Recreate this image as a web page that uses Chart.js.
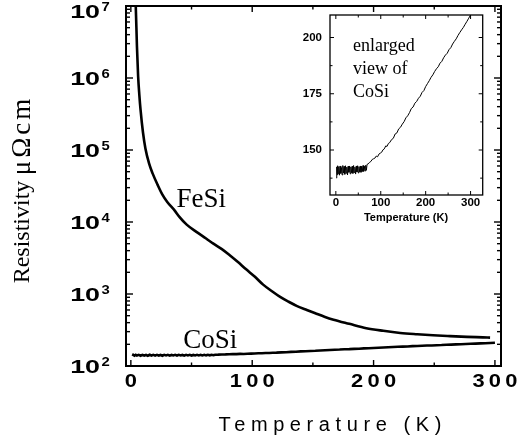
<!DOCTYPE html>
<html>
<head>
<meta charset="utf-8">
<script src="https://cdn.jsdelivr.net/npm/chart.js@4.4.1/dist/chart.umd.min.js"></script>
<style>
    body { margin: 0; background: #fff; }
    #wrap { position: relative; width: 517px; height: 444px; }
    #mainChart { position: absolute; left: 0; top: 0; }
    #insetChart { position: absolute; left: 290px; top: 0; }
</style>
</head>
<body>
<div id="wrap">
    <canvas id="mainChart" width="517" height="444"></canvas>
    <canvas id="insetChart" width="200" height="235"></canvas>
</div>
<script>
const fesiTemp = [3.5, 4, 5, 6, 7, 8, 10, 12, 15, 18, 22, 26, 30, 36, 40, 46, 54, 62, 68, 75,
    82, 88, 95, 102, 109, 116, 123, 130, 137, 145, 152, 160, 167, 180, 194, 208, 222, 236,
    249, 263, 277, 290, 296];
const fesiRho = [1.4e7, 1.05e7, 2.8e6, 1.05e6, 5.8e5, 3.6e5, 1.75e5, 1.05e5, 6.5e4, 4.7e4,
    3.3e4, 2.4e4, 1.9e4, 1.45e4, 1.18e4, 9.2e3, 7.3e3, 5.9e3, 5.0e3, 4.2e3, 3.4e3, 2.8e3,
    2.2e3, 1.75e3, 1.35e3, 1.1e3, 910, 780, 680, 600, 540, 480, 440, 385, 335, 308, 288,
    276, 267, 260, 254, 250, 248];

const cosiTemp = [1.5, 2, 3, 4, 5, 6.5, 8, 9.5, 11, 12.5, 14, 15.5, 17, 18.5, 20, 21.5, 23,
    24.5, 26, 27.5, 29, 30.5, 32, 33.5, 35, 36.5, 38, 39.5, 41, 42.5, 44, 45.5, 47, 48.5,
    50, 51.5, 53, 54.5, 56, 57.5, 59, 60.5, 62, 63.5, 65, 66.5, 68, 69.5, 72, 75, 78, 81,
    84, 87, 90, 93, 96, 99, 102, 105, 108, 111, 114, 117, 120, 124, 128, 132, 136, 140,
    144, 148, 152, 156, 160, 164, 168, 172, 176, 180, 184, 188, 192, 196, 200, 204, 208,
    212, 216, 220, 224, 228, 232, 236, 240, 244, 248, 252, 256, 260, 264, 268, 272, 276,
    280, 284, 288, 292, 296, 300];
const cosiRho = [137.5, 142.5, 139, 143, 139.5, 142.6, 138.8, 142.9, 139.6, 142.2, 138.9,
    143.1, 139.8, 142.7, 139.2, 143.0, 139.7, 142.4, 138.9, 142.8, 140.1, 142.9, 139.4,
    142.5, 139.9, 142.8, 139.6, 143.1, 140.0, 142.4, 139.3, 142.9, 140.2, 143.0, 139.8,
    142.6, 140.3, 142.9, 140.1, 142.7, 140.4, 143.1, 140.5, 142.8, 140.7, 143.2, 141.0,
    143.6, 143.8, 144.5, 144.9, 145.8, 146.1, 146.4, 147.3, 147.0, 148.2, 148.6, 149.0,
    150.1, 150.5, 151.8, 151.6, 152.9, 153.3, 154.6, 155.2, 157.1, 157.6, 159.4, 160.1,
    161.5, 162.6, 164.3, 165.2, 166.6, 168.4, 169.1, 170.8, 171.6, 173.0, 173.9, 175.6,
    176.4, 178.2, 179.5, 180.8, 182.3, 183.4, 184.9, 186.1, 187.0, 188.6, 189.4, 191.0,
    192.2, 193.0, 194.6, 195.5, 197.1, 198.3, 199.4, 200.9, 202.2, 203.4, 204.5, 205.9,
    207.2, 208.6, 210.0];

const xTickLabels = [0, 100, 200, 300];
const yDecades = [2, 3, 4, 5, 6, 7];
const insetXTickLabels = [0, 100, 200, 300];
const insetYTickLabels = [150, 175, 200];

function toPoints(xs, ys) {
    return xs.map((x, i) => ({ x: x, y: ys[i] }));
}

function drawLabel(ctx, text, x, y, font, opt = {}) {
    const ls = opt.ls || 0;
    const sx = opt.sx || 1;
    const align = opt.align || "left";
    ctx.save();
    ctx.font = font;
    ctx.letterSpacing = "0px";
    const w = ctx.measureText(text).width + ls * ([...text].length - 1);
    let dx = 0;
    if (align === "center") dx = -w / 2;
    if (align === "right") dx = -w;
    ctx.translate(x, y);
    if (opt.rotate) ctx.rotate(opt.rotate);
    ctx.scale(sx, 1);
    ctx.letterSpacing = ls + "px";
    ctx.textAlign = "left";
    ctx.textBaseline = opt.baseline || "alphabetic";
    ctx.fillStyle = "#000";
    ctx.fillText(text, dx, 0);
    ctx.restore();
}

function tick(ctx, x1, y1, x2, y2) {
    ctx.beginPath();
    ctx.moveTo(x1, y1);
    ctx.lineTo(x2, y2);
    ctx.stroke();
}

const mainFrame = {
    id: "mainFrame",
    afterDraw(chart) {
        const { ctx, chartArea: a, scales: { x, y } } = chart;
        ctx.save();
        ctx.strokeStyle = "#000";
        ctx.lineWidth = 2;
        ctx.strokeRect(a.left, a.top, a.right - a.left, a.bottom - a.top);

        ctx.lineWidth = 1.4;
        for (let k = 2; k <= 7; k++) {
            for (let m = 1; m <= 9; m++) {
                const v = m * Math.pow(10, k);
                if (v > 1e7) break;
                const py = y.getPixelForValue(v);
                const len = m === 1 ? 7 : 4;
                tick(ctx, a.left, py, a.left + len, py);
                tick(ctx, a.right, py, a.right - len, py);
            }
        }
        for (let t = 0; t <= 300; t += 50) {
            const px = x.getPixelForValue(t);
            const len = t % 100 === 0 ? 6 : 3.5;
            tick(ctx, px, a.bottom, px, a.bottom - len);
            tick(ctx, px, a.top, px, a.top + len);
        }
        ctx.restore();

        yDecades.forEach(k => {
            const py = y.getPixelForValue(Math.pow(10, k));
            const base = Math.max(py + 6.7, 17.5);
            drawLabel(ctx, "10", 100, base, "bold 18.5px 'Liberation Sans'", { align: "right", sx: 1.45 });
            drawLabel(ctx, String(k), 101.5, base - 6.5, "bold 13.5px 'Liberation Sans'", { sx: 1.1 });
        });
        xTickLabels.forEach(t => {
            const px = x.getPixelForValue(t);
            drawLabel(ctx, String(t), px, 387, "bold 17.5px 'Liberation Sans'", { align: "center", sx: 1.25, ls: 3.4 });
        });

        drawLabel(ctx, "Temperature (K)", 330, 431, "20px 'Liberation Sans'", { align: "center", ls: 5.6 });
        drawLabel(ctx, "Resistivity", 28.5, 232, "24px 'Liberation Serif'", { align: "center", rotate: -Math.PI / 2 });
        drawLabel(ctx, "\u03bc\u03a9cm", 29.5, 137, "27px 'Liberation Serif'", { align: "center", rotate: -Math.PI / 2, ls: 3 });

        drawLabel(ctx, "FeSi", 176.5, 207.3, "27px 'Liberation Serif'");
        drawLabel(ctx, "CoSi", 183.3, 348.3, "27px 'Liberation Serif'");
    }
};

const insetFrame = {
    id: "insetFrame",
    afterDraw(chart) {
        const { ctx, chartArea: a, scales: { x, y } } = chart;
        ctx.save();
        ctx.strokeStyle = "#000";
        ctx.lineWidth = 1.3;
        ctx.strokeRect(a.left, a.top, a.right - a.left, a.bottom - a.top);
        ctx.lineWidth = 1;
        for (let v = 137.5; v <= 210; v += 12.5) {
            const py = y.getPixelForValue(v);
            const len = v % 25 === 0 ? 4 : 2.5;
            tick(ctx, a.left, py, a.left + len, py);
            tick(ctx, a.right, py, a.right - len, py);
        }
        for (let t = 0; t <= 300; t += 50) {
            const px = x.getPixelForValue(t);
            const len = t % 100 === 0 ? 4 : 2.5;
            tick(ctx, px, a.bottom, px, a.bottom - len);
            tick(ctx, px, a.top, px, a.top + len);
        }
        ctx.restore();

        insetYTickLabels.forEach(v => {
            drawLabel(ctx, String(v), a.left - 8, y.getPixelForValue(v), "bold 11.5px 'Liberation Sans'", { align: "right", baseline: "middle" });
        });
        insetXTickLabels.forEach(t => {
            drawLabel(ctx, String(t), x.getPixelForValue(t), 203, "bold 11.5px 'Liberation Sans'", { align: "center", baseline: "middle" });
        });
        drawLabel(ctx, "Temperature (K)", 116, 217.5, "bold 11px 'Liberation Sans'", { align: "center", baseline: "middle" });

        drawLabel(ctx, "enlarged", 63, 50.7, "18px 'Liberation Serif'");
        drawLabel(ctx, "view of", 63, 74, "18px 'Liberation Serif'");
        drawLabel(ctx, "CoSi", 63, 96.7, "18px 'Liberation Serif'");
    }
};

new Chart(document.getElementById("mainChart").getContext("2d"), {
    type: "line",
    data: {
        datasets: [
            {
                label: "FeSi",
                data: toPoints(fesiTemp, fesiRho),
                borderColor: "#000",
                borderWidth: 2.6,
                cubicInterpolationMode: "monotone",
                pointRadius: 0,
                fill: false
            },
            {
                label: "CoSi",
                data: toPoints(cosiTemp, cosiRho),
                borderColor: "#000",
                borderWidth: 2.6,
                tension: 0,
                pointRadius: 0,
                fill: false
            }
        ]
    },
    options: {
        responsive: false,
        animation: false,
        devicePixelRatio: 1,
        layout: { padding: { left: 126, right: 16, top: 6, bottom: 78 } },
        plugins: {
            legend: { display: false },
            tooltip: { enabled: false }
        },
        scales: {
            x: { type: "linear", min: -4, max: 305, display: false },
            y: { type: "logarithmic", min: 100, max: 1e7, display: false }
        }
    },
    plugins: [mainFrame]
});

new Chart(document.getElementById("insetChart").getContext("2d"), {
    type: "line",
    data: {
        datasets: [
            {
                label: "CoSi",
                data: toPoints(cosiTemp, cosiRho),
                borderColor: "#000",
                borderWidth: 1,
                tension: 0,
                pointRadius: 0,
                fill: false
            }
        ]
    },
    options: {
        responsive: false,
        animation: false,
        devicePixelRatio: 1,
        layout: { padding: { left: 40, right: 7.3, top: 15, bottom: 40 } },
        plugins: {
            legend: { display: false },
            tooltip: { enabled: false }
        },
        scales: {
            x: { type: "linear", min: -13, max: 327, display: false },
            y: { type: "linear", min: 130, max: 210, display: false }
        }
    },
    plugins: [insetFrame]
});
</script>
</body>
</html>
